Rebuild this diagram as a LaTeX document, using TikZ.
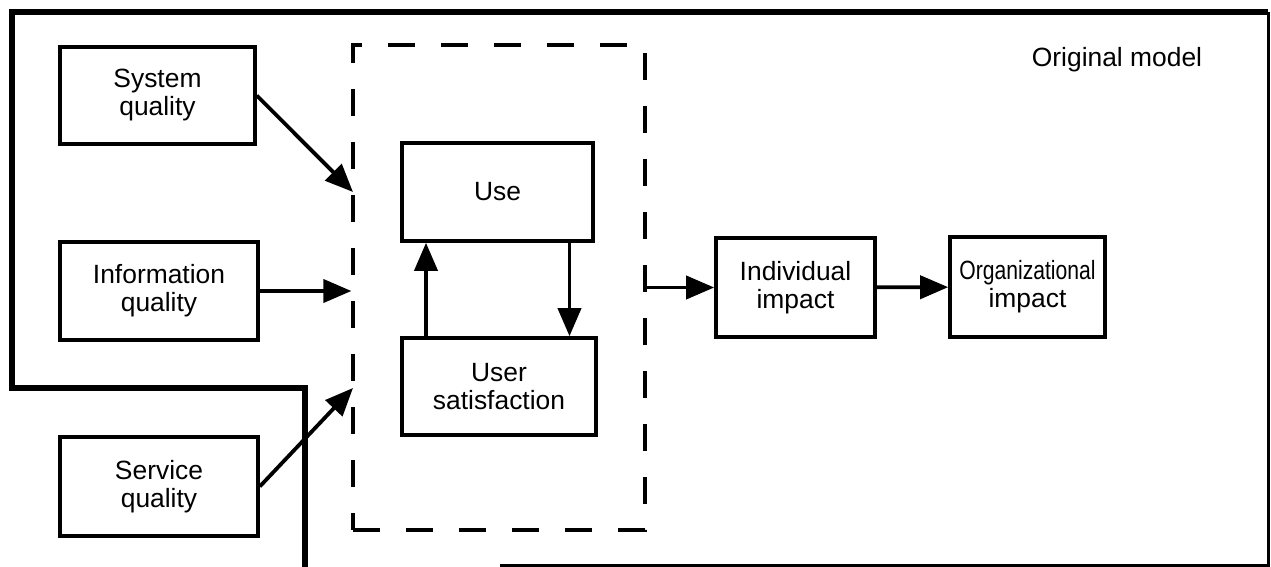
\documentclass[tikz,border=0pt]{standalone}
\usepackage{fontspec}
\usepackage{graphicx}
\setmainfont{Liberation Sans}
\usetikzlibrary{arrows.meta,positioning}
\tikzset{
    box/.style={rectangle, draw=black, line width=1.8pt, fill=white,
        align=center, inner sep=2pt},
    arrow/.style={-{Triangle[length=14pt,width=11.5pt]}, line width=1.9pt},
    group/.style={draw=black, line width=1.6pt, dash pattern=on 13.5pt off 13pt},
    frame/.style={line width=3.2pt, line join=miter}
}
\begin{document}
\begin{tikzpicture}[x=0.5pt,y=-0.5pt,
    every node/.style={font=\fontsize{13.2}{14}\selectfont}]
    \useasboundingbox (0,0) rectangle (1271,567);
    % outer frame
    \draw[frame] (305,567) -- (305,388) -- (12,388) -- (12,12) -- (1268,12);
    \draw[line width=1.5pt] (1268,12) -- (1268,565) -- (500,565);
    \node at (1117,60) {Original model};
    % group of use and satisfaction
    \node[group, minimum width=146pt, minimum height=242.5pt] (grp) at (499,287.5) {};
    \node[box, minimum width=95.5pt, minimum height=49pt] (use) at (497.5,192) {Use};
    \node[box, minimum width=97pt, minimum height=48.5pt] (sat) at (499,386.5) {User\\satisfaction};
    % quality boxes
    \node[box, minimum width=97.5pt, minimum height=48.5pt] (sysq) at (157.5,95.5) {System\\quality};
    \node[box, minimum width=99pt, minimum height=49pt] (infq) at (159,291) {Information\\quality};
    \node[box, minimum width=99pt, minimum height=49.5pt] (serq) at (159,486.5) {Service\\quality};
    % impacts
    \node[box, minimum width=79.5pt, minimum height=49.5pt] (indi) at (795.5,287.5) {Individual\\impact};
    \node[box, minimum width=77.5pt, minimum height=50pt] (orgi) at (1027.5,287)
        {\scalebox{0.8}[1]{Organizational}\\impact};
    \coordinate (in-sys) at (353,192);
    \coordinate (in-ser) at (353,388);
    \path (sysq.east) edge [arrow] (in-sys)
        (infq.east) edge [arrow] (infq.east -| grp.west)
        (serq.east) edge [arrow] (in-ser)
        ([xshift=-36.5pt]sat.north) edge [arrow] ([xshift=-36.5pt]sat.north |- use.south)
        ([xshift=36pt]use.south) edge [arrow] ([xshift=36pt]use.south |- sat.north)
        (grp.east) edge [arrow] (indi.west)
        (indi) edge [arrow] (orgi);
\end{tikzpicture}
\end{document}
